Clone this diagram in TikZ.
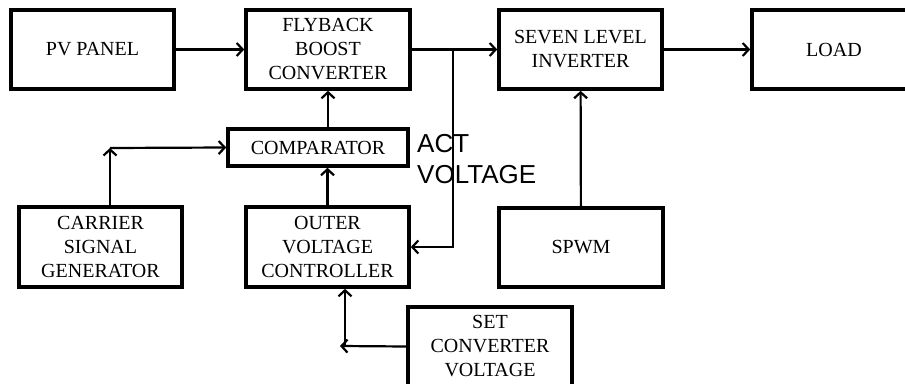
\documentclass[tikz,border=0pt]{standalone}
\usepackage{fontspec}
\setmainfont{Liberation Serif}
\newfontfamily\labelsans{Liberation Sans}
\usetikzlibrary{arrows.meta}
\tikzset{
  blk/.style={draw, line width=3.6pt, align=center, inner sep=0pt,
    font=\fontsize{20}{24}\selectfont},
  arr/.style={line width=2.2pt, -{Straight Barb[length=6pt,width=13pt,line width=2.2pt]}},
  lbl/.style={font=\labelsans\fontsize{26}{31}\selectfont, inner sep=0pt, anchor=base west}
}
\begin{document}
\begin{tikzpicture}[x=1pt,y=-1pt]
\clip (0,0) rectangle (905,383);
\fill[white] (0,0) rectangle (905,383);
% boxes
\node[blk, minimum width=163pt, minimum height=79pt] (pv) at (92.5,49.5) {PV PANEL};
\node[blk, minimum width=164pt, minimum height=79pt] (fly) at (328,49.5) {FLYBACK\\BOOST\\CONVERTER};
\node[blk, minimum width=163pt, minimum height=79pt] (sev) at (580.5,49.5) {SEVEN LEVEL\\INVERTER};
\node[blk, minimum width=164pt, minimum height=79pt] (load) at (834,49.5) {LOAD};
\node[blk, minimum width=180pt, minimum height=37pt] (comp) at (318,147.5) {COMPARATOR};
\node[blk, minimum width=163pt, minimum height=80pt] (carrier) at (100.5,247) {CARRIER\\SIGNAL\\GENERATOR};
\node[blk, minimum width=163pt, minimum height=80pt] (outer) at (327.5,247) {OUTER\\VOLTAGE\\CONTROLLER};
\node[blk, minimum width=164pt, minimum height=79pt] (spwm) at (581,247.5) {SPWM};
\node[blk, minimum width=164pt, minimum height=79pt] (set) at (490,346.5) {SET\\CONVERTER\\VOLTAGE};
% label
\node[lbl] (act1) at (417,152) {ACT};
\node[lbl] (act2) at (417,183) {VOLTAGE};
% coordinates
\coordinate (j1) at (453,49.5);
\coordinate (c1) at (110,148);
\coordinate (s1) at (340,346);
\coordinate (s2) at (345,346);
% connectors
\draw[arr] (pv) -- (fly);
\draw[arr] (fly) -- (sev);
\draw[arr] (sev) -- (load);
\draw[arr] (j1) |- (outer.east);
\draw[arr] (fly.south |- comp.north) -- (fly.south);
\draw[arr] (outer.north) -- (outer.north |- comp.south);
\draw[arr] (carrier.north -| c1) -- (c1);
\draw[arr] (c1) -- (comp.west);
\draw[arr] (spwm) -- (sev);
\draw[arr] (set.west) -- (s1);
\draw[arr] (s2) -- (s2 |- outer.south);
\end{tikzpicture}
\end{document}
